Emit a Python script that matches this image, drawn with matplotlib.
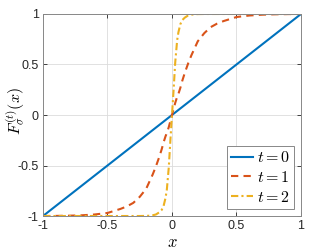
import matplotlib
matplotlib.use("Agg")
import matplotlib.pyplot as plt
import numpy as np

# positive-half samples (curves are odd-symmetric)
x_half = [0.0, 0.0125, 0.025, 0.04, 0.05, 0.065, 0.08, 0.1, 0.125, 0.15, 0.175,
          0.2, 0.25, 0.3, 0.35, 0.4, 0.5, 0.6, 0.7, 0.8, 0.9, 1.0]
y_t0_half = [0.0, 0.0125, 0.025, 0.04, 0.05, 0.065, 0.08, 0.1, 0.125, 0.15, 0.175,
             0.2, 0.25, 0.3, 0.35, 0.4, 0.5, 0.6, 0.7, 0.8, 0.9, 1.0]
y_t1_half = [0.0, 0.06, 0.12, 0.18, 0.21, 0.27, 0.34, 0.42, 0.51, 0.59, 0.66,
             0.73, 0.81, 0.87, 0.905, 0.93, 0.97, 0.985, 0.993, 0.997, 0.999, 1.0]
y_t2_half = [0.0, 0.25, 0.52, 0.74, 0.82, 0.90, 0.94, 0.965, 0.985, 0.993, 0.997,
             0.999, 1.0, 1.0, 1.0, 1.0, 1.0, 1.0, 1.0, 1.0, 1.0, 1.0]
labels = ["$t=0$", "$t=1$", "$t=2$"]
xticks = [-1, -0.5, 0, 0.5, 1]
yticks = [-1, -0.5, 0, 0.5, 1]
xticklabels = ["-1", "-0.5", "0", "0.5", "1"]
yticklabels = ["-1", "-0.5", "0", "0.5", "1"]

def mirror(xs, ys):
    xs = np.asarray(xs); ys = np.asarray(ys)
    return np.concatenate([-xs[:0:-1], xs]), np.concatenate([-ys[:0:-1], ys])

plt.rcParams["mathtext.fontset"] = "cm"
plt.rcParams["font.family"] = ["Liberation Sans", "DejaVu Sans"]

fig = plt.figure(figsize=(3.32, 2.49), dpi=100)
ax = fig.add_axes([0.1295, 0.1325, 0.7771, 0.8113])

colors = ["#0072BD", "#D95319", "#EDB120"]
styles = ["-", (0, (3.5, 2.5)), (0, (3.5, 1.5, 1, 1.5))]
for ys, c, ls, lab in zip([y_t0_half, y_t1_half, y_t2_half], colors, styles, labels):
    xx, yy = mirror(x_half, ys)
    ax.plot(xx, yy, color=c, linestyle=ls, lw=1.5, label=lab)

ax.set_xlim(-1, 1)
ax.set_ylim(-1, 1)
ax.set_xticks(xticks)
ax.set_xticklabels(xticklabels)
ax.set_yticks(yticks)
ax.set_yticklabels(yticklabels)
ax.grid(True, color="#dcdcdc", lw=0.6)
ax.tick_params(direction="in", length=3, width=0.6, labelsize=9, colors="#262626",
               top=True, right=True, pad=3)
for s in ax.spines.values():
    s.set_color("#888888")
    s.set_linewidth(0.7)

ax.set_xlabel("$x$", fontsize=12)
ax.xaxis.set_label_coords(0.5, -0.095)
ax.set_ylabel("$F_{\\sigma}^{(t)}(x)$", fontsize=11.5)
ax.yaxis.set_label_coords(-0.062, 0.52)

leg = ax.legend(loc="lower right", fontsize=11.5, handlelength=1.4, handletextpad=0.2,
                borderpad=0.25, labelspacing=0.3, fancybox=False,
                borderaxespad=0.45, framealpha=1)
leg.get_frame().set_edgecolor("#888888")
leg.get_frame().set_linewidth(0.7)

fig.savefig("out.png", dpi=100)
